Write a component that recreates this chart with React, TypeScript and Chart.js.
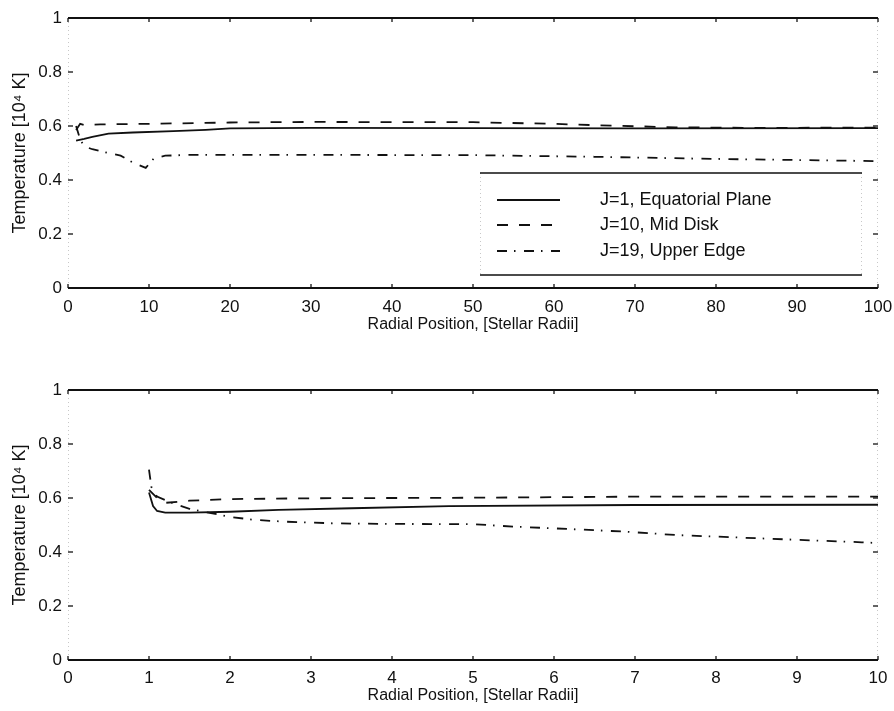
import React, { useEffect, useRef } from "react";
import { Chart, registerables } from "chart.js";

Chart.register(...registerables);

// ---------- data ----------
const SERIES_LABELS = ["J=1, Equatorial Plane", "J=10, Mid Disk", "J=19, Upper Edge"];
const X_TITLE = "Radial Position, [Stellar Radii]";
const Y_TITLE = "Temperature [10\u2074 K]";

// top panel (0..100 stellar radii)
const topX_J1 = [1, 2, 3, 5, 8, 13, 17, 20, 30, 50, 70, 100];
const topY_J1 = [0.546, 0.552, 0.56, 0.572, 0.576, 0.581, 0.586, 0.591, 0.593, 0.592, 0.591, 0.592];
const topX_J10 = [1, 1.5, 2, 4, 10, 20, 30, 50, 60, 65, 75, 85, 100];
const topY_J10 = [0.585, 0.608, 0.604, 0.606, 0.608, 0.613, 0.615, 0.614, 0.608, 0.603, 0.595, 0.593, 0.594];
const topX_J19 = [1, 1.5, 2, 3, 5, 6.5, 8, 9.6, 10.6, 12, 15, 30, 50, 65, 80, 100];
const topY_J19 = [0.6, 0.55, 0.525, 0.514, 0.5, 0.49, 0.465, 0.445, 0.48, 0.49, 0.493, 0.493, 0.492, 0.486, 0.478, 0.47];

// bottom panel (0..10 stellar radii)
const botX_J1 = [1, 1.05, 1.1, 1.2, 1.5, 2, 2.6, 3.5, 4.7, 7, 10];
const botY_J1 = [0.62, 0.57, 0.552, 0.546, 0.546, 0.549, 0.556, 0.562, 0.57, 0.574, 0.575];
const botX_J10 = [1, 1.1, 1.2, 1.5, 2, 3, 5, 7, 10];
const botY_J10 = [0.63, 0.6, 0.582, 0.59, 0.596, 0.599, 0.601, 0.605, 0.605];
const botX_J19 = [1, 1.03, 1.1, 1.3, 1.5, 2, 2.3, 2.7, 3.3, 4, 5, 5.5, 6.2, 6.9, 7.5, 8.5, 9.8, 10];
const botY_J19 = [0.705, 0.64, 0.605, 0.58, 0.56, 0.53, 0.519, 0.512, 0.506, 0.504, 0.503, 0.494, 0.485, 0.475, 0.463, 0.451, 0.436, 0.433];

const TOP_X_MAX = 100;
const TOP_X_STEP = 10;
const BOT_X_MAX = 10;
const BOT_X_STEP = 1;
const Y_MAX = 1;
const Y_STEP = 0.2;

// ---------- styling ----------
const FONT = "'Liberation Sans', Arial, Helvetica, sans-serif";
const INK = "#111";
const DASHES = [[], [11, 11], [10, 7, 1.5, 8.5]];

const pts = (xs: number[], ys: number[]) => xs.map((x, i) => ({ x, y: ys[i] }));

const framePlugin = {
  id: "frame",
  beforeDatasetsDraw(chart: any) {
    const { ctx, chartArea: a, scales } = chart;
    ctx.save();
    ctx.strokeStyle = "#c8c8c8";
    ctx.lineWidth = 1;
    ctx.setLineDash([1, 3]);
    ctx.beginPath();
    ctx.moveTo(a.left + 0.5, a.top);
    ctx.lineTo(a.left + 0.5, a.bottom);
    ctx.moveTo(a.right - 0.5, a.top);
    ctx.lineTo(a.right - 0.5, a.bottom);
    ctx.stroke();
    ctx.setLineDash([]);
    ctx.strokeStyle = "#333";
    ctx.lineWidth = 1.5;
    ctx.beginPath();
    scales.y.ticks.forEach((t: any) => {
      const py = scales.y.getPixelForValue(t.value);
      ctx.moveTo(a.left, py);
      ctx.lineTo(a.left + 5, py);
      ctx.moveTo(a.right, py);
      ctx.lineTo(a.right - 5, py);
    });
    scales.x.ticks.forEach((t: any) => {
      const px = scales.x.getPixelForValue(t.value);
      ctx.moveTo(px, a.bottom);
      ctx.lineTo(px, a.bottom - 4);
      ctx.moveTo(px, a.top);
      ctx.lineTo(px, a.top + 4);
    });
    ctx.stroke();
    ctx.strokeStyle = INK;
    ctx.lineWidth = 2;
    ctx.beginPath();
    ctx.moveTo(a.left, a.top);
    ctx.lineTo(a.right, a.top);
    ctx.moveTo(a.left, a.bottom);
    ctx.lineTo(a.right, a.bottom);
    ctx.stroke();
    ctx.restore();
  },
  afterDraw(chart: any, _args: any, opts: any) {
    if (!opts || !opts.legend) return;
    const { ctx } = chart;
    const box = opts.box;
    ctx.save();
    ctx.fillStyle = "#fff";
    ctx.fillRect(box.left, box.top, box.right - box.left, box.bottom - box.top);
    ctx.strokeStyle = "#c8c8c8";
    ctx.lineWidth = 1;
    ctx.setLineDash([1, 3]);
    ctx.beginPath();
    ctx.moveTo(box.left + 0.5, box.top);
    ctx.lineTo(box.left + 0.5, box.bottom);
    ctx.moveTo(box.right - 0.5, box.top);
    ctx.lineTo(box.right - 0.5, box.bottom);
    ctx.stroke();
    ctx.setLineDash([]);
    ctx.strokeStyle = INK;
    ctx.lineWidth = 1.6;
    ctx.beginPath();
    ctx.moveTo(box.left, box.top);
    ctx.lineTo(box.right, box.top);
    ctx.moveTo(box.left, box.bottom);
    ctx.lineTo(box.right, box.bottom);
    ctx.stroke();
    chart.data.datasets.forEach((ds: any, i: number) => {
      const y = box.rows[i];
      ctx.strokeStyle = ds.borderColor;
      ctx.lineWidth = ds.borderWidth;
      ctx.setLineDash(ds.borderDash || []);
      ctx.beginPath();
      ctx.moveTo(box.sampleLeft, y);
      ctx.lineTo(box.sampleRight, y);
      ctx.stroke();
      ctx.setLineDash([]);
      ctx.fillStyle = INK;
      ctx.font = `18px ${FONT}`;
      ctx.textAlign = "left";
      ctx.textBaseline = "middle";
      ctx.fillText(ds.label, box.textLeft, y);
    });
    ctx.restore();
  },
};

function makeConfig(
  series: { x: number[]; y: number[] }[],
  xMax: number,
  xStep: number,
  layout: { top: number; xHeight: number; titleBottom: number; labelPad: number },
  legend: any
) {
  return {
    type: "line" as const,
    data: {
      datasets: series.map((s, i) => ({
        label: SERIES_LABELS[i],
        data: pts(s.x, s.y),
        borderColor: INK,
        borderWidth: 1.8,
        borderDash: DASHES[i],
        pointRadius: 0,
        tension: 0,
        fill: false,
      })),
    },
    options: {
      responsive: false,
      animation: false,
      devicePixelRatio: 1,
      layout: { padding: { top: layout.top, right: 16, left: 0, bottom: 0 } },
      plugins: {
        legend: { display: false },
        tooltip: { enabled: false },
        frame: legend ? { legend: true, box: legend } : { legend: false },
      },
      scales: {
        x: {
          type: "linear",
          min: 0,
          max: xMax,
          grid: { display: false, drawTicks: false, tickLength: 0 },
          border: { display: false },
          ticks: {
            stepSize: xStep,
            padding: layout.labelPad,
            color: INK,
            font: { family: FONT, size: 17 },
            maxRotation: 0,
          },
          title: {
            display: true,
            text: X_TITLE,
            color: INK,
            font: { family: FONT, size: 16 },
            padding: { top: 0, bottom: layout.titleBottom },
          },
          afterFit: (s: any) => {
            s.height = layout.xHeight;
            s.paddingLeft = 0;
            s.paddingRight = 0;
          },
        },
        y: {
          type: "linear",
          min: 0,
          max: Y_MAX,
          grid: { display: false, drawTicks: false, tickLength: 0 },
          border: { display: false },
          ticks: {
            stepSize: Y_STEP,
            padding: 6,
            color: INK,
            font: { family: FONT, size: 17 },
            callback: (v: any) => String(Number(Number(v).toFixed(1))),
          },
          title: {
            display: true,
            text: Y_TITLE,
            color: INK,
            font: { family: FONT, size: 18 },
            padding: { top: 9, bottom: 0 },
          },
          afterFit: (s: any) => {
            s.width = 68;
            s.paddingTop = 0;
            s.paddingBottom = 0;
          },
        },
      },
    },
    plugins: [framePlugin],
  };
}

export default function App() {
  const topRef = useRef<HTMLCanvasElement>(null);
  const botRef = useRef<HTMLCanvasElement>(null);

  useEffect(() => {
    const top = new Chart(
      topRef.current as HTMLCanvasElement,
      makeConfig(
        [
          { x: topX_J1, y: topY_J1 },
          { x: topX_J10, y: topY_J10 },
          { x: topX_J19, y: topY_J19 },
        ],
        TOP_X_MAX,
        TOP_X_STEP,
        { top: 18, xHeight: 67, titleBottom: 21, labelPad: 9 },
        {
          left: 480,
          right: 862,
          top: 173,
          bottom: 275,
          rows: [200, 225, 251],
          sampleLeft: 497,
          sampleRight: 560,
          textLeft: 600,
        }
      ) as any
    );
    const bot = new Chart(
      botRef.current as HTMLCanvasElement,
      makeConfig(
        [
          { x: botX_J1, y: botY_J1 },
          { x: botX_J10, y: botY_J10 },
          { x: botX_J19, y: botY_J19 },
        ],
        BOT_X_MAX,
        BOT_X_STEP,
        { top: 35, xHeight: 51, titleBottom: 6, labelPad: 8 },
        null
      ) as any
    );
    return () => {
      top.destroy();
      bot.destroy();
    };
  }, []);

  return (
    <div style={{ position: "fixed", left: 0, top: 0, width: 894, height: 711, background: "#fff" }}>
      <canvas ref={topRef} width={894} height={355} style={{ display: "block", width: 894, height: 355 }} />
      <canvas ref={botRef} width={894} height={356} style={{ display: "block", width: 894, height: 356 }} />
    </div>
  );
}
